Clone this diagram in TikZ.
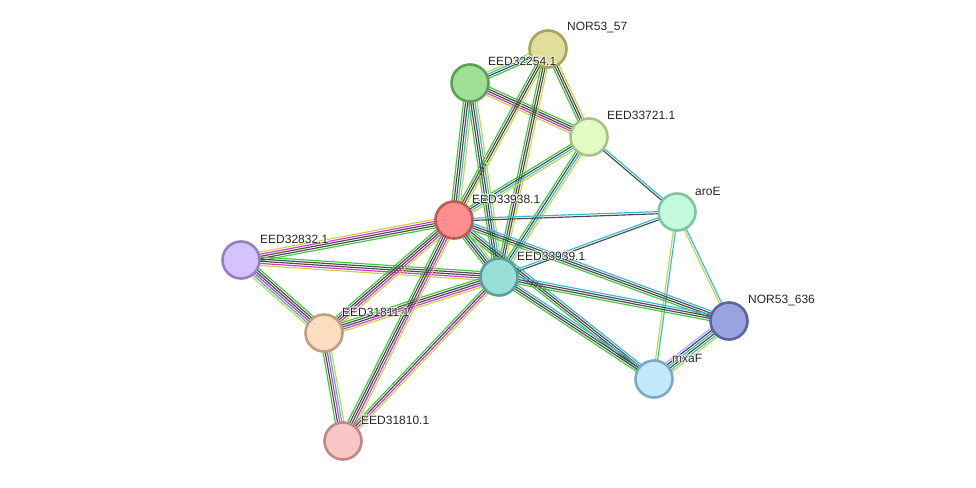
\documentclass[tikz,border=0pt]{standalone}
\usepackage{fontspec}
\setmainfont{Liberation Sans}
\usetikzlibrary{calc}
\definecolor{cn}{HTML}{3CC83C}
\definecolor{cx}{HTML}{4A4A4A}
\definecolor{cd}{HTML}{35B8DE}
\definecolor{ce}{HTML}{DD2EDD}
\definecolor{ct}{HTML}{C4D838}
\definecolor{cc}{HTML}{3030EE}
\definecolor{ch}{HTML}{AAAAFF}
\pgfdeclarelayer{bg}
\pgfdeclarelayer{paper}
\pgfsetlayers{paper,bg,main}
\tikzset{
  prot/.style={circle, minimum size=37pt, inner sep=0pt, line width=2.6pt},
  lab/.style={anchor=west, font=\fontsize{12}{14}\selectfont, inner sep=0pt, text=black!85},
  halo/.style={lab, text=white, opacity=0.75},
  wire/.style={line width=1.15pt},
}
\newcommand\sedge[3]{%
  \foreach \c [count=\i] in {#3} {\xdef\nn{\i}}%
  \begin{pgfonlayer}{bg}
  \foreach \c [count=\i] in {#3} {%
    \pgfmathsetmacro\off{(\i-(\nn+1)/2)*2.15}%
    \draw[wire, \c] ($(#1.center)!\off pt!90:(#2.center)$) -- ($(#2.center)!\off pt!-90:(#1.center)$);
  }%
  \end{pgfonlayer}%
}
% label with a faint white halo: #1 node name, #2 protein node, #3 offset, #4 text
\newcommand\plab[4]{%
  \foreach \hx/\hy [count=\k] in {0.8/0,-0.8/0,0/0.8,0/-0.8,0.6/0.6,-0.6/0.6,0.6/-0.6,-0.6/-0.6} {%
    \node[halo] (#1h\k) at ($(#2)+(#3)+(\hx,\hy)$) {#4};
  }%
  \node[lab] (#1) at ($(#2)+(#3)$) {#4};
}
\begin{document}
\begin{tikzpicture}[x=1pt,y=-1pt]
\begin{pgfonlayer}{paper}
\fill[white] (0,0) rectangle (976,487);
\end{pgfonlayer}
\useasboundingbox (0,0) rectangle (976,487);
% nodes
\node[prot, fill={rgb,255:red,224;green,222;blue,154}, draw={rgb,255:red,166;green,163;blue,92}] (n57) at (548,49) {};
\node[prot, fill={rgb,255:red,160;green,224;blue,149}, draw={rgb,255:red,94;green,158;blue,85}] (a32254) at (470,83) {};
\node[prot, fill={rgb,255:red,226;green,252;blue,198}, draw={rgb,255:red,165;green,196;blue,138}] (a33721) at (589,137) {};
\node[prot, fill={rgb,255:red,195;green,250;blue,220}, draw={rgb,255:red,126;green,196;blue,160}] (aroE) at (677,212) {};
\node[prot, fill={rgb,255:red,255;green,142;blue,142}, draw={rgb,255:red,192;green,88;blue,88}] (a33938) at (454,220) {};
\node[prot, fill={rgb,255:red,212;green,195;blue,255}, draw={rgb,255:red,149;green,128;blue,196}] (a32832) at (241,260) {};
\node[prot, fill={rgb,255:red,152;green,223;blue,214}, draw={rgb,255:red,90;green,160;blue,153}] (a33939) at (499,277) {};
\node[prot, fill={rgb,255:red,253;green,221;blue,192}, draw={rgb,255:red,192;green,158;blue,126}] (a31811) at (324,333) {};
\node[prot, fill={rgb,255:red,153;green,163;blue,224}, draw={rgb,255:red,90;green,100;blue,160}] (n636) at (729,321) {};
\node[prot, fill={rgb,255:red,195;green,233;blue,253}, draw={rgb,255:red,128;green,168;blue,192}] (mxaF) at (654,379) {};
\node[prot, fill={rgb,255:red,249;green,197;blue,197}, draw={rgb,255:red,192;green,136;blue,136}] (a31810) at (343,441) {};
% edges
\sedge{a32254}{n57}{cn,cx,cd,ct}
\sedge{a32254}{a33721}{ct,ce,cx,cx,cn}
\sedge{n57}{a33721}{cn,cx,cx,ct}
\sedge{n57}{a33938}{cn,cx,cx,ct}
\sedge{n57}{a33939}{cn,cx,cx,ct}
\sedge{a32254}{a33938}{cn,cx,cx,cd,ct}
\sedge{a32254}{a33939}{cn,cx,cx,cd,ct}
\sedge{a33721}{a33938}{cn,cx,cd,ct}
\sedge{a33721}{a33939}{cn,cx,cd,ct}
\sedge{a33721}{aroE}{cx,cd}
\sedge{a33938}{aroE}{cx,cd}
\sedge{a33939}{aroE}{cx,cd}
\sedge{aroE}{n636}{ct,cd}
\sedge{aroE}{mxaF}{ct,cd}
\sedge{n636}{mxaF}{ch,cc,cn,cx,cd,ct}
\sedge{a33938}{n636}{cn,cx,cx,cd}
\sedge{a33938}{mxaF}{cn,cx,cx,cd}
\sedge{a33939}{n636}{cn,cx,cx,cd}
\sedge{a33939}{mxaF}{cn,cx,cx,cd}
\sedge{a33938}{a33939}{cn,cx,cx,cd,ct}
\sedge{a32832}{a33938}{cn,cx,cx,ce,ct}
\sedge{a32832}{a33939}{ct,ce,cx,cx,cn}
\sedge{a32832}{a31811}{ct,cd,ce,cx,cx,cn}
\sedge{a31811}{a33938}{ct,ce,cx,cx,cn}
\sedge{a31811}{a33939}{ct,ce,cx,cx,cn}
\sedge{a31811}{a31810}{cn,cx,ce,cd,ct}
\sedge{a31810}{a33938}{ct,ce,cx,cx,cn}
\sedge{a31810}{a33939}{ct,ce,cx,cn}
% labels
\plab{l57}{n57}{19,-21}{NOR53\_57}
\plab{l32254}{a32254}{18,-22}{EED32254.1}
\plab{l33721}{a33721}{18,-22}{EED33721.1}
\plab{laroE}{aroE}{18,-21}{aroE}
\plab{l33938}{a33938}{18,-21}{EED33938.1}
\plab{l32832}{a32832}{19,-21}{EED32832.1}
\plab{l33939}{a33939}{18,-21}{EED33939.1}
\plab{l31811}{a31811}{18,-21}{EED31811.1}
\plab{l636}{n636}{19,-21}{NOR53\_636}
\plab{lmxaF}{mxaF}{18,-21}{mxaF}
\plab{l31810}{a31810}{18,-21}{EED31810.1}
\end{tikzpicture}
\end{document}
